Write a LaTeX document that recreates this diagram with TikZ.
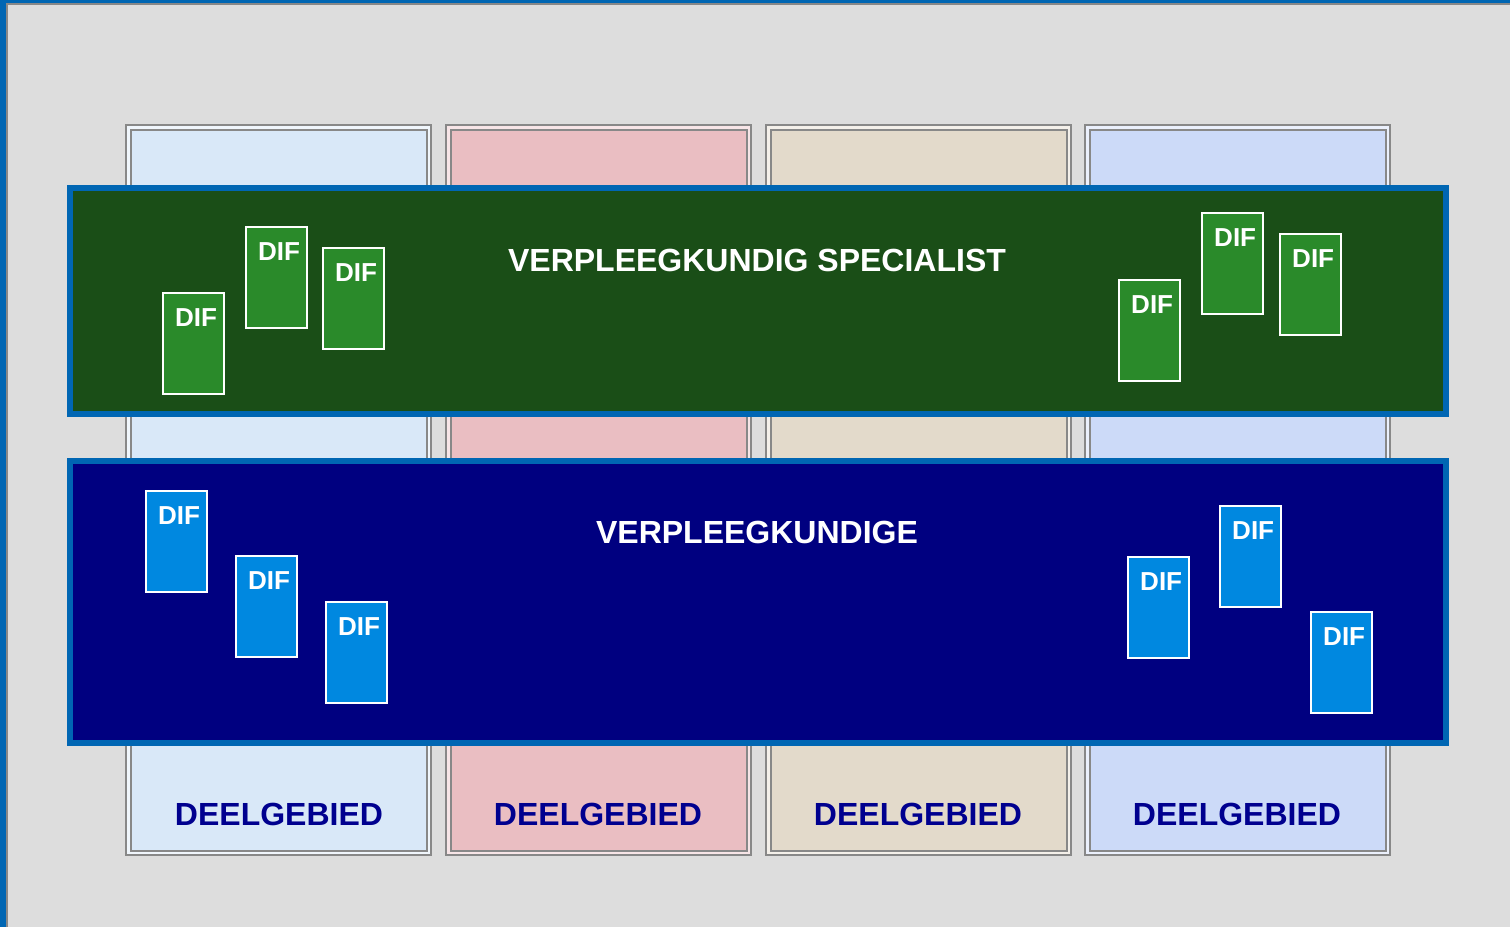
\documentclass[tikz,border=0pt]{standalone}
\usepackage{fontspec}
\setmainfont{Liberation Sans}
\definecolor{bg}{HTML}{DDDDDD}
\definecolor{frameblue}{HTML}{0066B3}
\definecolor{framegrey}{HTML}{888888}
\definecolor{colA}{HTML}{D9E8F8}
\definecolor{colB}{HTML}{EABEC2}
\definecolor{colC}{HTML}{E3DACB}
\definecolor{colD}{HTML}{CCDAF8}
\definecolor{vsgreen}{HTML}{1A4E17}
\definecolor{difgreen}{HTML}{2A8A2A}
\definecolor{vkblue}{HTML}{000080}
\definecolor{difblue}{HTML}{0088E0}
\definecolor{deelblue}{HTML}{00008F}
\begin{document}
\begin{tikzpicture}[x=0.5pt,y=-0.5pt,
  column/.style={draw=framegrey,line width=1pt},
  band/.style={draw=frameblue,line width=3pt},
  dif/.style={draw=white,line width=0.75pt,anchor=north west,
    minimum width=30.5pt,minimum height=50.5pt,inner sep=0pt,
    label={[anchor=north east,inner sep=0pt,xshift=-3.5pt,yshift=-8pt,
      text=white,font=\fontsize{13}{15}\selectfont\bfseries]north east:DIF}},
  difg/.style={dif,fill=difgreen},
  difb/.style={dif,fill=difblue},
  title/.style={text=white,font=\fontsize{16}{18}\selectfont\bfseries,inner sep=0pt},
  deel/.style={text=deelblue,font=\fontsize{16}{18}\selectfont\bfseries,inner sep=0pt}]

\useasboundingbox (0,0) rectangle (1510,927);
\fill[bg] (0,0) rectangle (1510,927);

%frame
\fill[frameblue] (0,0) rectangle (6,927);
\fill[frameblue] (0,0) rectangle (1510,3);
\draw[framegrey,line width=1pt] (7,927) -- (7,4) -- (1510,4);

%deelgebieden
\begin{scope}
\draw[column,fill=colA!40!white] (126,125) rectangle (431,855);
\draw[column,fill=colA] (130.5,129.5) rectangle (427,851);
\draw[column,fill=colB!40!white] (446,125) rectangle (751,855);
\draw[column,fill=colB] (450.5,129.5) rectangle (747,851);
\draw[column,fill=colC!40!white] (766,125) rectangle (1071,855);
\draw[column,fill=colC] (770.5,129.5) rectangle (1067,851);
\draw[column,fill=colD!40!white] (1085,125) rectangle (1390,855);
\draw[column,fill=colD] (1089.5,129.5) rectangle (1386,851);

\node[deel] (d1) at (279,814) {DEELGEBIED};
\node[deel] (d2) at (598,814) {DEELGEBIED};
\node[deel] (d3) at (918,814) {DEELGEBIED};
\node[deel] (d4) at (1237,814) {DEELGEBIED};
\end{scope}

%verpleegkundig specialist
\begin{scope}
\draw[band,fill=vsgreen] (70,188) rectangle (1446,414);
\node[title] (vs) at (757,260) {VERPLEEGKUNDIG SPECIALIST};

\node[difg] (g1) at (162,292) {};
\node[difg] (g2) at (245,226) {};
\node[difg] (g3) at (322,247) {};
\node[difg] (g4) at (1118,279) {};
\node[difg] (g5) at (1201,212) {};
\node[difg] (g6) at (1279,233) {};
\end{scope}

%verpleegkundige
\begin{scope}
\draw[band,fill=vkblue] (70,461) rectangle (1446,743);
\node[title] (vk) at (757,532) {VERPLEEGKUNDIGE};

\node[difb] (b1) at (145,490) {};
\node[difb] (b2) at (235,555) {};
\node[difb] (b3) at (325,601) {};
\node[difb] (b4) at (1127,556) {};
\node[difb] (b5) at (1219,505) {};
\node[difb] (b6) at (1310,611) {};
\end{scope}

\end{tikzpicture}
\end{document}
